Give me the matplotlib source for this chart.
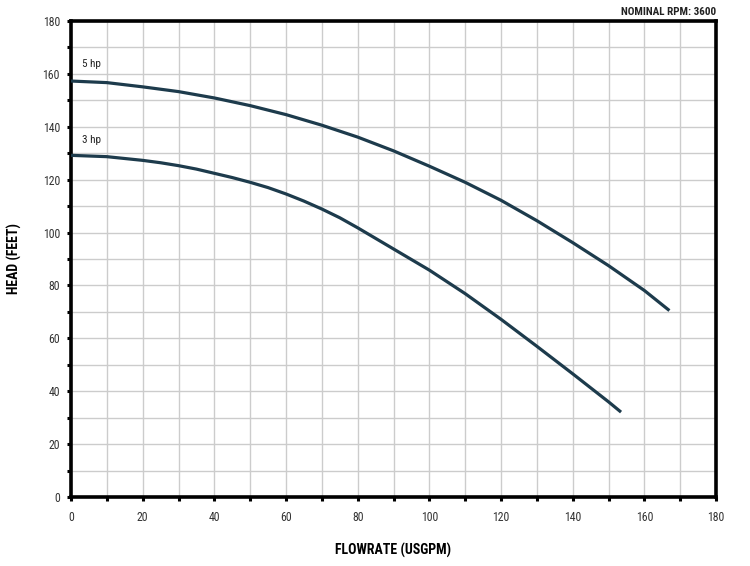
import matplotlib
matplotlib.use("Agg")
import matplotlib.pyplot as plt
from matplotlib.ticker import MultipleLocator

# Data
flow_5hp = [0, 10, 20, 30, 40, 50, 60, 70, 80, 90, 100, 110, 120, 130, 140, 150, 160, 167]
head_5hp = [157.3, 156.7, 155.1, 153.3, 150.9, 148.0, 144.6, 140.6, 136.1, 130.9, 125.1, 119.0, 112.2, 104.5, 96.2, 87.5, 78.1, 70.5]

flow_3hp = [0, 10, 20, 25, 30, 35, 40, 45, 50, 55, 60, 65, 70, 75, 80, 85, 90, 100, 110, 120, 130, 140, 150, 153.5]
head_3hp = [129.2, 128.7, 127.3, 126.4, 125.3, 124.0, 122.4, 120.8, 119.0, 117.0, 114.6, 111.9, 108.9, 105.6, 101.8, 97.8, 93.8, 85.8, 76.9, 67.2, 57.0, 46.6, 36.0, 32.1]

curve_labels = ["5 hp", "3 hp"]
x_ticks = list(range(0, 181, 20))
y_ticks = list(range(0, 181, 20))

plt.rcParams['font.family'] = ['Roboto Condensed', 'DejaVu Sans']

fig = plt.figure(figsize=(7.5, 5.66), dpi=100)
ax = fig.add_axes([71/750, 1 - 497/566, (716-71)/750, (497-21)/566])

line_color = '#1d3b4c'
ax.plot(flow_5hp, head_5hp, color=line_color, lw=2.3, solid_capstyle='butt',
        solid_joinstyle='round', zorder=3)
ax.plot(flow_3hp, head_3hp, color=line_color, lw=2.3, solid_capstyle='butt',
        solid_joinstyle='round', zorder=3)

ax.text(3, 162, curve_labels[0], fontsize=8, color='#222222', va='bottom', ha='left')
ax.text(3, 133, curve_labels[1], fontsize=8, color='#222222', va='bottom', ha='left')

ax.set_xlim(0, 180)
ax.set_ylim(0, 180)
ax.set_xticks(x_ticks)
ax.set_yticks(y_ticks)
ax.xaxis.set_minor_locator(MultipleLocator(10))
ax.yaxis.set_minor_locator(MultipleLocator(10))
ax.grid(True, which='both', color='#cccccc', lw=1.0, zorder=0)
ax.set_axisbelow(True)

for s in ax.spines.values():
    s.set_linewidth(2.6)
    s.set_color('black')

ax.tick_params(which='both', direction='out', length=3, width=2.2, color='black',
               labelsize=8.5, labelcolor='#333333', pad=5)
ax.tick_params(axis='x', pad=7)

ax.set_xlabel('FLOWRATE (USGPM)', fontsize=10, fontweight='bold')
ax.set_ylabel('HEAD (FEET)', fontsize=10, fontweight='bold')
ax.xaxis.set_label_coords(0.5, (497 - 543) / 476)
ax.yaxis.set_label_coords((22 - 71) / 645, 0.5)

fig.text(716/750, 1 - 12/566, 'NOMINAL RPM: 3600', ha='right', va='center',
         fontsize=8, color='#222222', fontweight='bold')

fig.savefig('out.png', dpi=100, facecolor='white')
